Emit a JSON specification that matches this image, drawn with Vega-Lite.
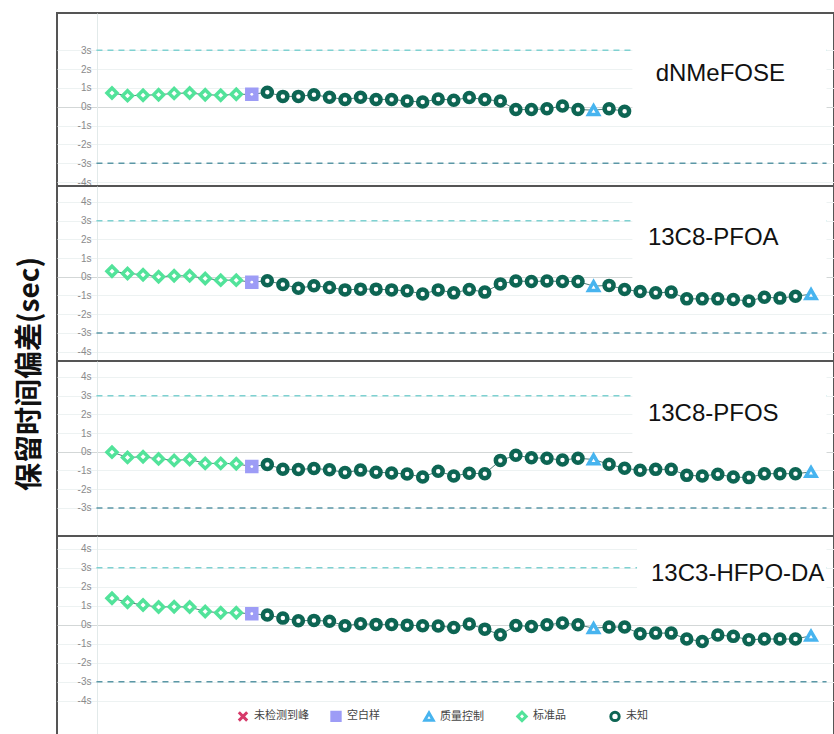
{
 "$schema": "https://vega.github.io/schema/vega-lite/v6.json",
 "padding": {"left": 16, "top": 12, "right": 0, "bottom": 0},
 "autosize": {"type": "pad"},
 "background": "white",
 "bounds": "flush",
 "title": {"text": "保留时间偏差(sec)", "orient": "left", "anchor": "middle", "font": "Noto Sans CJK SC", "fontSize": 28, "fontWeight": "bold", "color": "#111111", "offset": 11},
 "spacing": 0,
 "config": {"view": {"stroke": "#555555", "strokeWidth": 2}, "font": "Liberation Sans", "axisY": {"labelOverlap": false, "tickCount": 20}},
 "datasets": {
  "pts": [
   {"c":"dNMeFOSE","i":0,"v":0.73,"t":"标准品"},{"c":"dNMeFOSE","i":1,"v":0.59,"t":"标准品"},{"c":"dNMeFOSE","i":2,"v":0.61,"t":"标准品"},{"c":"dNMeFOSE","i":3,"v":0.64,"t":"标准品"},{"c":"dNMeFOSE","i":4,"v":0.71,"t":"标准品"},{"c":"dNMeFOSE","i":5,"v":0.73,"t":"标准品"},{"c":"dNMeFOSE","i":6,"v":0.64,"t":"标准品"},{"c":"dNMeFOSE","i":7,"v":0.61,"t":"标准品"},{"c":"dNMeFOSE","i":8,"v":0.66,"t":"标准品"},{"c":"dNMeFOSE","i":9,"v":0.66,"t":"空白样"},
   {"c":"dNMeFOSE","i":10,"v":0.77,"t":"未知"},{"c":"dNMeFOSE","i":11,"v":0.55,"t":"未知"},{"c":"dNMeFOSE","i":12,"v":0.55,"t":"未知"},{"c":"dNMeFOSE","i":13,"v":0.64,"t":"未知"},{"c":"dNMeFOSE","i":14,"v":0.5,"t":"未知"},{"c":"dNMeFOSE","i":15,"v":0.39,"t":"未知"},{"c":"dNMeFOSE","i":16,"v":0.5,"t":"未知"},{"c":"dNMeFOSE","i":17,"v":0.39,"t":"未知"},{"c":"dNMeFOSE","i":18,"v":0.39,"t":"未知"},{"c":"dNMeFOSE","i":19,"v":0.3,"t":"未知"},
   {"c":"dNMeFOSE","i":20,"v":0.25,"t":"未知"},{"c":"dNMeFOSE","i":21,"v":0.41,"t":"未知"},{"c":"dNMeFOSE","i":22,"v":0.35,"t":"未知"},{"c":"dNMeFOSE","i":23,"v":0.49,"t":"未知"},{"c":"dNMeFOSE","i":24,"v":0.38,"t":"未知"},{"c":"dNMeFOSE","i":25,"v":0.31,"t":"未知"},{"c":"dNMeFOSE","i":26,"v":-0.15,"t":"未知"},{"c":"dNMeFOSE","i":27,"v":-0.15,"t":"未知"},{"c":"dNMeFOSE","i":28,"v":-0.11,"t":"未知"},{"c":"dNMeFOSE","i":29,"v":0.04,"t":"未知"},
   {"c":"dNMeFOSE","i":30,"v":-0.15,"t":"未知"},{"c":"dNMeFOSE","i":31,"v":-0.18,"t":"质量控制"},{"c":"dNMeFOSE","i":32,"v":-0.11,"t":"未知"},{"c":"dNMeFOSE","i":33,"v":-0.24,"t":"未知"},

   {"c":"13C8-PFOA","i":0,"v":0.29,"t":"标准品"},{"c":"13C8-PFOA","i":1,"v":0.18,"t":"标准品"},{"c":"13C8-PFOA","i":2,"v":0.11,"t":"标准品"},{"c":"13C8-PFOA","i":3,"v":0.0,"t":"标准品"},{"c":"13C8-PFOA","i":4,"v":0.05,"t":"标准品"},{"c":"13C8-PFOA","i":5,"v":0.05,"t":"标准品"},{"c":"13C8-PFOA","i":6,"v":-0.09,"t":"标准品"},{"c":"13C8-PFOA","i":7,"v":-0.18,"t":"标准品"},{"c":"13C8-PFOA","i":8,"v":-0.18,"t":"标准品"},{"c":"13C8-PFOA","i":9,"v":-0.29,"t":"空白样"},
   {"c":"13C8-PFOA","i":10,"v":-0.21,"t":"未知"},{"c":"13C8-PFOA","i":11,"v":-0.41,"t":"未知"},{"c":"13C8-PFOA","i":12,"v":-0.61,"t":"未知"},{"c":"13C8-PFOA","i":13,"v":-0.48,"t":"未知"},{"c":"13C8-PFOA","i":14,"v":-0.57,"t":"未知"},{"c":"13C8-PFOA","i":15,"v":-0.7,"t":"未知"},{"c":"13C8-PFOA","i":16,"v":-0.66,"t":"未知"},{"c":"13C8-PFOA","i":17,"v":-0.66,"t":"未知"},{"c":"13C8-PFOA","i":18,"v":-0.7,"t":"未知"},{"c":"13C8-PFOA","i":19,"v":-0.75,"t":"未知"},
   {"c":"13C8-PFOA","i":20,"v":-0.92,"t":"未知"},{"c":"13C8-PFOA","i":21,"v":-0.7,"t":"未知"},{"c":"13C8-PFOA","i":22,"v":-0.86,"t":"未知"},{"c":"13C8-PFOA","i":23,"v":-0.68,"t":"未知"},{"c":"13C8-PFOA","i":24,"v":-0.82,"t":"未知"},{"c":"13C8-PFOA","i":25,"v":-0.38,"t":"未知"},{"c":"13C8-PFOA","i":26,"v":-0.23,"t":"未知"},{"c":"13C8-PFOA","i":27,"v":-0.25,"t":"未知"},{"c":"13C8-PFOA","i":28,"v":-0.23,"t":"未知"},{"c":"13C8-PFOA","i":29,"v":-0.25,"t":"未知"},
   {"c":"13C8-PFOA","i":30,"v":-0.25,"t":"未知"},{"c":"13C8-PFOA","i":31,"v":-0.5,"t":"质量控制"},{"c":"13C8-PFOA","i":32,"v":-0.46,"t":"未知"},{"c":"13C8-PFOA","i":33,"v":-0.68,"t":"未知"},{"c":"13C8-PFOA","i":34,"v":-0.79,"t":"未知"},{"c":"13C8-PFOA","i":35,"v":-0.86,"t":"未知"},{"c":"13C8-PFOA","i":36,"v":-0.82,"t":"未知"},{"c":"13C8-PFOA","i":37,"v":-1.18,"t":"未知"},{"c":"13C8-PFOA","i":38,"v":-1.18,"t":"未知"},{"c":"13C8-PFOA","i":39,"v":-1.18,"t":"未知"},
   {"c":"13C8-PFOA","i":40,"v":-1.21,"t":"未知"},{"c":"13C8-PFOA","i":41,"v":-1.29,"t":"未知"},{"c":"13C8-PFOA","i":42,"v":-1.09,"t":"未知"},{"c":"13C8-PFOA","i":43,"v":-1.14,"t":"未知"},{"c":"13C8-PFOA","i":44,"v":-1.04,"t":"未知"},{"c":"13C8-PFOA","i":45,"v":-0.93,"t":"质量控制"},

   {"c":"13C8-PFOS","i":0,"v":-0.02,"t":"标准品"},{"c":"13C8-PFOS","i":1,"v":-0.3,"t":"标准品"},{"c":"13C8-PFOS","i":2,"v":-0.27,"t":"标准品"},{"c":"13C8-PFOS","i":3,"v":-0.38,"t":"标准品"},{"c":"13C8-PFOS","i":4,"v":-0.46,"t":"标准品"},{"c":"13C8-PFOS","i":5,"v":-0.41,"t":"标准品"},{"c":"13C8-PFOS","i":6,"v":-0.62,"t":"标准品"},{"c":"13C8-PFOS","i":7,"v":-0.62,"t":"标准品"},{"c":"13C8-PFOS","i":8,"v":-0.64,"t":"标准品"},{"c":"13C8-PFOS","i":9,"v":-0.79,"t":"空白样"},
   {"c":"13C8-PFOS","i":10,"v":-0.68,"t":"未知"},{"c":"13C8-PFOS","i":11,"v":-0.93,"t":"未知"},{"c":"13C8-PFOS","i":12,"v":-0.95,"t":"未知"},{"c":"13C8-PFOS","i":13,"v":-0.89,"t":"未知"},{"c":"13C8-PFOS","i":14,"v":-0.96,"t":"未知"},{"c":"13C8-PFOS","i":15,"v":-1.11,"t":"未知"},{"c":"13C8-PFOS","i":16,"v":-0.98,"t":"未知"},{"c":"13C8-PFOS","i":17,"v":-1.09,"t":"未知"},{"c":"13C8-PFOS","i":18,"v":-1.13,"t":"未知"},{"c":"13C8-PFOS","i":19,"v":-1.19,"t":"未知"},
   {"c":"13C8-PFOS","i":20,"v":-1.35,"t":"未知"},{"c":"13C8-PFOS","i":21,"v":-1.04,"t":"未知"},{"c":"13C8-PFOS","i":22,"v":-1.29,"t":"未知"},{"c":"13C8-PFOS","i":23,"v":-1.15,"t":"未知"},{"c":"13C8-PFOS","i":24,"v":-1.17,"t":"未知"},{"c":"13C8-PFOS","i":25,"v":-0.46,"t":"未知"},{"c":"13C8-PFOS","i":26,"v":-0.19,"t":"未知"},{"c":"13C8-PFOS","i":27,"v":-0.32,"t":"未知"},{"c":"13C8-PFOS","i":28,"v":-0.35,"t":"未知"},{"c":"13C8-PFOS","i":29,"v":-0.44,"t":"未知"},
   {"c":"13C8-PFOS","i":30,"v":-0.35,"t":"未知"},{"c":"13C8-PFOS","i":31,"v":-0.41,"t":"质量控制"},{"c":"13C8-PFOS","i":32,"v":-0.67,"t":"未知"},{"c":"13C8-PFOS","i":33,"v":-0.88,"t":"未知"},{"c":"13C8-PFOS","i":34,"v":-0.99,"t":"未知"},{"c":"13C8-PFOS","i":35,"v":-0.94,"t":"未知"},{"c":"13C8-PFOS","i":36,"v":-0.94,"t":"未知"},{"c":"13C8-PFOS","i":37,"v":-1.26,"t":"未知"},{"c":"13C8-PFOS","i":38,"v":-1.29,"t":"未知"},{"c":"13C8-PFOS","i":39,"v":-1.2,"t":"未知"},
   {"c":"13C8-PFOS","i":40,"v":-1.35,"t":"未知"},{"c":"13C8-PFOS","i":41,"v":-1.38,"t":"未知"},{"c":"13C8-PFOS","i":42,"v":-1.17,"t":"未知"},{"c":"13C8-PFOS","i":43,"v":-1.17,"t":"未知"},{"c":"13C8-PFOS","i":44,"v":-1.17,"t":"未知"},{"c":"13C8-PFOS","i":45,"v":-1.08,"t":"质量控制"},

   {"c":"13C3-HFPO-DA","i":0,"v":1.4,"t":"标准品"},{"c":"13C3-HFPO-DA","i":1,"v":1.18,"t":"标准品"},{"c":"13C3-HFPO-DA","i":2,"v":1.04,"t":"标准品"},{"c":"13C3-HFPO-DA","i":3,"v":0.93,"t":"标准品"},{"c":"13C3-HFPO-DA","i":4,"v":0.95,"t":"标准品"},{"c":"13C3-HFPO-DA","i":5,"v":0.93,"t":"标准品"},{"c":"13C3-HFPO-DA","i":6,"v":0.7,"t":"标准品"},{"c":"13C3-HFPO-DA","i":7,"v":0.63,"t":"标准品"},{"c":"13C3-HFPO-DA","i":8,"v":0.63,"t":"标准品"},{"c":"13C3-HFPO-DA","i":9,"v":0.58,"t":"空白样"},
   {"c":"13C3-HFPO-DA","i":10,"v":0.51,"t":"未知"},{"c":"13C3-HFPO-DA","i":11,"v":0.35,"t":"未知"},{"c":"13C3-HFPO-DA","i":12,"v":0.21,"t":"未知"},{"c":"13C3-HFPO-DA","i":13,"v":0.23,"t":"未知"},{"c":"13C3-HFPO-DA","i":14,"v":0.19,"t":"未知"},{"c":"13C3-HFPO-DA","i":15,"v":-0.05,"t":"未知"},{"c":"13C3-HFPO-DA","i":16,"v":0.05,"t":"未知"},{"c":"13C3-HFPO-DA","i":17,"v":0.02,"t":"未知"},{"c":"13C3-HFPO-DA","i":18,"v":0.02,"t":"未知"},{"c":"13C3-HFPO-DA","i":19,"v":-0.02,"t":"未知"},
   {"c":"13C3-HFPO-DA","i":20,"v":-0.05,"t":"未知"},{"c":"13C3-HFPO-DA","i":21,"v":-0.07,"t":"未知"},{"c":"13C3-HFPO-DA","i":22,"v":-0.14,"t":"未知"},{"c":"13C3-HFPO-DA","i":23,"v":0.04,"t":"未知"},{"c":"13C3-HFPO-DA","i":24,"v":-0.23,"t":"未知"},{"c":"13C3-HFPO-DA","i":25,"v":-0.53,"t":"未知"},{"c":"13C3-HFPO-DA","i":26,"v":-0.04,"t":"未知"},{"c":"13C3-HFPO-DA","i":27,"v":-0.09,"t":"未知"},{"c":"13C3-HFPO-DA","i":28,"v":0.0,"t":"未知"},{"c":"13C3-HFPO-DA","i":29,"v":0.09,"t":"未知"},
   {"c":"13C3-HFPO-DA","i":30,"v":0.0,"t":"未知"},{"c":"13C3-HFPO-DA","i":31,"v":-0.18,"t":"质量控制"},{"c":"13C3-HFPO-DA","i":32,"v":-0.12,"t":"未知"},{"c":"13C3-HFPO-DA","i":33,"v":-0.12,"t":"未知"},{"c":"13C3-HFPO-DA","i":34,"v":-0.47,"t":"未知"},{"c":"13C3-HFPO-DA","i":35,"v":-0.44,"t":"未知"},{"c":"13C3-HFPO-DA","i":36,"v":-0.44,"t":"未知"},{"c":"13C3-HFPO-DA","i":37,"v":-0.75,"t":"未知"},{"c":"13C3-HFPO-DA","i":38,"v":-0.88,"t":"未知"},{"c":"13C3-HFPO-DA","i":39,"v":-0.54,"t":"未知"},
   {"c":"13C3-HFPO-DA","i":40,"v":-0.61,"t":"未知"},{"c":"13C3-HFPO-DA","i":41,"v":-0.79,"t":"未知"},{"c":"13C3-HFPO-DA","i":42,"v":-0.75,"t":"未知"},{"c":"13C3-HFPO-DA","i":43,"v":-0.75,"t":"未知"},{"c":"13C3-HFPO-DA","i":44,"v":-0.75,"t":"未知"},{"c":"13C3-HFPO-DA","i":45,"v":-0.58,"t":"质量控制"}
  ]
 },
 "vconcat": [
  {
   "width": 777, "height": 173,
   "layer": [
    {"data": {"values": [{"lim": 3}]}, "mark": {"type": "rule", "color": "#7fd1d1", "strokeWidth": 1.5, "strokeDash": [6, 5]},
     "encoding": {
      "y": {"field": "lim", "type": "quantitative", "scale": {"domain": [-4.21, 4.98], "nice": false, "zero": false},
            "axis": {"title": null, "values": [-4, -3, -2, -1, 0, 1, 2, 3], "tickCount": 20, "labelOverlap": false, "offset": -40, "ticks": false, "labelPadding": 6, "labelFontSize": 10, "labelColor": "#8a8a8a", "domainColor": "#e2eaea", "labelExpr": "datum.value + 's'", "gridColor": {"condition": {"test": "datum.value === 0", "value": "#d3d7d7"}, "value": "#edf2f2"}}},
      "x": {"datum": -1, "type": "quantitative", "scale": {"domain": [-3.54, 46.48], "nice": false, "zero": false}, "axis": null},
      "x2": {"datum": 46}}},
    {"data": {"values": [{"lim": -3}]}, "mark": {"type": "rule", "color": "#5b97a6", "strokeWidth": 1.5, "strokeDash": [6, 5]},
     "encoding": {"y": {"field": "lim", "type": "quantitative"}, "x": {"datum": -1, "type": "quantitative"}, "x2": {"datum": 46}}},
    {"data": {"values": [{}]}, "mark": {"type": "rect", "fill": "white"},
     "encoding": {"x": {"datum": 33.5, "type": "quantitative"}, "x2": {"datum": 46}, "y": {"datum": 4.85, "type": "quantitative"}, "y2": {"datum": -0.5}}},
    {"data": {"name": "pts"}, "transform": [{"filter": "datum.c === 'dNMeFOSE'"}], "mark": {"type": "line", "color": "#4f7c78", "strokeWidth": 1},
     "encoding": {"x": {"field": "i", "type": "quantitative"}, "y": {"field": "v", "type": "quantitative"}}},
    {"data": {"name": "pts"}, "transform": [{"filter": "datum.c === 'dNMeFOSE' && datum.t !== '未知'"}], "mark": {"type": "point", "size": 100, "strokeWidth": 3.5, "opacity": 1},
     "encoding": {"x": {"field": "i", "type": "quantitative"}, "y": {"field": "v", "type": "quantitative"},
      "shape": {"field": "t", "type": "nominal", "scale": {"domain": ["未检测到峰", "空白样", "质量控制", "标准品", "未知"], "range": ["M-1,-1L1,1M-1,1L1,-1", "square", "triangle-up", "diamond", "circle"]},
                "legend": {"orient": "none", "legendX": 180, "legendY": 697, "direction": "horizontal", "columns": 5, "gridAlign": "all", "columnPadding": 16, "title": null, "labelFontSize": 11, "labelColor": "#444444", "labelFont": "Noto Sans CJK SC", "symbolSize": 70, "symbolStrokeWidth": 3, "labelOffset": 5}},
      "fill": {"field": "t", "type": "nominal", "scale": {"domain": ["未检测到峰", "空白样", "质量控制", "标准品", "未知"], "range": ["#d63a6a", "#9d9cf6", "#ffffff", "#ffffff", "#ffffff"]},
                "legend": {"orient": "none", "legendX": 180, "legendY": 697, "direction": "horizontal", "columns": 5, "gridAlign": "all", "columnPadding": 16, "title": null, "labelFontSize": 11, "labelColor": "#444444", "labelFont": "Noto Sans CJK SC", "symbolSize": 70, "symbolStrokeWidth": 3, "labelOffset": 5}},
      "stroke": {"field": "t", "type": "nominal", "scale": {"domain": ["未检测到峰", "空白样", "质量控制", "标准品", "未知"], "range": ["#d63a6a", "#9d9cf6", "#47b4ef", "#52e39a", "#0d6553"]},
                "legend": {"orient": "none", "legendX": 180, "legendY": 697, "direction": "horizontal", "columns": 5, "gridAlign": "all", "columnPadding": 16, "title": null, "labelFontSize": 11, "labelColor": "#444444", "labelFont": "Noto Sans CJK SC", "symbolSize": 70, "symbolStrokeWidth": 3, "labelOffset": 5}}}},
    {"data": {"name": "pts"}, "transform": [{"filter": "datum.c === 'dNMeFOSE' && datum.t === '未知'"}], "mark": {"type": "point", "size": 81, "strokeWidth": 4.5, "opacity": 1},
     "encoding": {"x": {"field": "i", "type": "quantitative"}, "y": {"field": "v", "type": "quantitative"},
      "shape": {"field": "t", "type": "nominal"}, "fill": {"field": "t", "type": "nominal"}, "stroke": {"field": "t", "type": "nominal"}}},
    {"data": {"name": "pts"}, "transform": [{"filter": "datum.c === 'dNMeFOSE' && datum.t === '空白样'"}], "mark": {"type": "point", "shape": "circle", "size": 8, "filled": true, "fill": "white", "opacity": 1, "strokeWidth": 0},
     "encoding": {"x": {"field": "i", "type": "quantitative"}, "y": {"field": "v", "type": "quantitative"}}},
    {"data": {"values": [{"name": "dNMeFOSE"}]}, "mark": {"type": "text", "align": "left", "baseline": "middle", "fontSize": 24, "font": "Liberation Sans", "color": "#111111"},
     "encoding": {"text": {"field": "name"}, "x": {"datum": 35, "type": "quantitative"}, "y": {"datum": 1.74, "type": "quantitative"}}}
   ]
  },
  {
   "width": 777, "height": 175,
   "layer": [
    {"data": {"values": [{"lim": 3}]}, "mark": {"type": "rule", "color": "#7fd1d1", "strokeWidth": 1.5, "strokeDash": [6, 5]},
     "encoding": {
      "y": {"field": "lim", "type": "quantitative", "scale": {"domain": [-4.5, 4.85], "nice": false, "zero": false},
            "axis": {"title": null, "values": [-4, -3, -2, -1, 0, 1, 2, 3, 4], "tickCount": 20, "labelOverlap": false, "offset": -40, "ticks": false, "labelPadding": 6, "labelFontSize": 10, "labelColor": "#8a8a8a", "domainColor": "#e2eaea", "labelExpr": "datum.value + 's'", "gridColor": {"condition": {"test": "datum.value === 0", "value": "#d3d7d7"}, "value": "#edf2f2"}}},
      "x": {"datum": -1, "type": "quantitative", "scale": {"domain": [-3.54, 46.48], "nice": false, "zero": false}, "axis": null},
      "x2": {"datum": 46}}},
    {"data": {"values": [{"lim": -3}]}, "mark": {"type": "rule", "color": "#5b97a6", "strokeWidth": 1.5, "strokeDash": [6, 5]},
     "encoding": {"y": {"field": "lim", "type": "quantitative"}, "x": {"datum": -1, "type": "quantitative"}, "x2": {"datum": 46}}},
    {"data": {"values": [{}]}, "mark": {"type": "rect", "fill": "white"},
     "encoding": {"x": {"datum": 33.5, "type": "quantitative"}, "x2": {"datum": 46}, "y": {"datum": 4.75, "type": "quantitative"}, "y2": {"datum": -0.5}}},
    {"data": {"name": "pts"}, "transform": [{"filter": "datum.c === '13C8-PFOA'"}], "mark": {"type": "line", "color": "#4f7c78", "strokeWidth": 1},
     "encoding": {"x": {"field": "i", "type": "quantitative"}, "y": {"field": "v", "type": "quantitative"}}},
    {"data": {"name": "pts"}, "transform": [{"filter": "datum.c === '13C8-PFOA' && datum.t !== '未知'"}], "mark": {"type": "point", "size": 100, "strokeWidth": 3.5, "opacity": 1},
     "encoding": {"x": {"field": "i", "type": "quantitative"}, "y": {"field": "v", "type": "quantitative"},
      "shape": {"field": "t", "type": "nominal"}, "fill": {"field": "t", "type": "nominal"}, "stroke": {"field": "t", "type": "nominal"}}},
    {"data": {"name": "pts"}, "transform": [{"filter": "datum.c === '13C8-PFOA' && datum.t === '未知'"}], "mark": {"type": "point", "size": 81, "strokeWidth": 4.5, "opacity": 1},
     "encoding": {"x": {"field": "i", "type": "quantitative"}, "y": {"field": "v", "type": "quantitative"},
      "shape": {"field": "t", "type": "nominal"}, "fill": {"field": "t", "type": "nominal"}, "stroke": {"field": "t", "type": "nominal"}}},
    {"data": {"name": "pts"}, "transform": [{"filter": "datum.c === '13C8-PFOA' && datum.t === '空白样'"}], "mark": {"type": "point", "shape": "circle", "size": 8, "filled": true, "fill": "white", "opacity": 1, "strokeWidth": 0},
     "encoding": {"x": {"field": "i", "type": "quantitative"}, "y": {"field": "v", "type": "quantitative"}}},
    {"data": {"values": [{"name": "13C8-PFOA"}]}, "mark": {"type": "text", "align": "left", "baseline": "middle", "fontSize": 24, "font": "Liberation Sans", "color": "#111111"},
     "encoding": {"text": {"field": "name"}, "x": {"datum": 34.5, "type": "quantitative"}, "y": {"datum": 2.08, "type": "quantitative"}}}
   ]
  },
  {
   "width": 777, "height": 175,
   "layer": [
    {"data": {"values": [{"lim": 3}]}, "mark": {"type": "rule", "color": "#7fd1d1", "strokeWidth": 1.5, "strokeDash": [6, 5]},
     "encoding": {
      "y": {"field": "lim", "type": "quantitative", "scale": {"domain": [-4.5, 4.85], "nice": false, "zero": false},
            "axis": {"title": null, "values": [-3, -2, -1, 0, 1, 2, 3, 4], "tickCount": 20, "labelOverlap": false, "offset": -40, "ticks": false, "labelPadding": 6, "labelFontSize": 10, "labelColor": "#8a8a8a", "domainColor": "#e2eaea", "labelExpr": "datum.value + 's'", "gridColor": {"condition": {"test": "datum.value === 0", "value": "#d3d7d7"}, "value": "#edf2f2"}}},
      "x": {"datum": -1, "type": "quantitative", "scale": {"domain": [-3.54, 46.48], "nice": false, "zero": false}, "axis": null},
      "x2": {"datum": 46}}},
    {"data": {"values": [{"lim": -3}]}, "mark": {"type": "rule", "color": "#5b97a6", "strokeWidth": 1.5, "strokeDash": [6, 5]},
     "encoding": {"y": {"field": "lim", "type": "quantitative"}, "x": {"datum": -1, "type": "quantitative"}, "x2": {"datum": 46}}},
    {"data": {"values": [{}]}, "mark": {"type": "rect", "fill": "white"},
     "encoding": {"x": {"datum": 33.5, "type": "quantitative"}, "x2": {"datum": 46}, "y": {"datum": 4.75, "type": "quantitative"}, "y2": {"datum": -0.5}}},
    {"data": {"name": "pts"}, "transform": [{"filter": "datum.c === '13C8-PFOS'"}], "mark": {"type": "line", "color": "#4f7c78", "strokeWidth": 1},
     "encoding": {"x": {"field": "i", "type": "quantitative"}, "y": {"field": "v", "type": "quantitative"}}},
    {"data": {"name": "pts"}, "transform": [{"filter": "datum.c === '13C8-PFOS' && datum.t !== '未知'"}], "mark": {"type": "point", "size": 100, "strokeWidth": 3.5, "opacity": 1},
     "encoding": {"x": {"field": "i", "type": "quantitative"}, "y": {"field": "v", "type": "quantitative"},
      "shape": {"field": "t", "type": "nominal"}, "fill": {"field": "t", "type": "nominal"}, "stroke": {"field": "t", "type": "nominal"}}},
    {"data": {"name": "pts"}, "transform": [{"filter": "datum.c === '13C8-PFOS' && datum.t === '未知'"}], "mark": {"type": "point", "size": 81, "strokeWidth": 4.5, "opacity": 1},
     "encoding": {"x": {"field": "i", "type": "quantitative"}, "y": {"field": "v", "type": "quantitative"},
      "shape": {"field": "t", "type": "nominal"}, "fill": {"field": "t", "type": "nominal"}, "stroke": {"field": "t", "type": "nominal"}}},
    {"data": {"name": "pts"}, "transform": [{"filter": "datum.c === '13C8-PFOS' && datum.t === '空白样'"}], "mark": {"type": "point", "shape": "circle", "size": 8, "filled": true, "fill": "white", "opacity": 1, "strokeWidth": 0},
     "encoding": {"x": {"field": "i", "type": "quantitative"}, "y": {"field": "v", "type": "quantitative"}}},
    {"data": {"values": [{"name": "13C8-PFOS"}]}, "mark": {"type": "text", "align": "left", "baseline": "middle", "fontSize": 24, "font": "Liberation Sans", "color": "#111111"},
     "encoding": {"text": {"field": "name"}, "x": {"datum": 34.5, "type": "quantitative"}, "y": {"datum": 2.03, "type": "quantitative"}}}
   ]
  },
  {
   "width": 777, "height": 199,
   "layer": [
    {"data": {"values": [{"lim": 3}]}, "mark": {"type": "rule", "color": "#7fd1d1", "strokeWidth": 1.5, "strokeDash": [6, 5]},
     "encoding": {
      "y": {"field": "lim", "type": "quantitative", "scale": {"domain": [-5.8, 4.67], "nice": false, "zero": false},
            "axis": {"title": null, "values": [-4, -3, -2, -1, 0, 1, 2, 3, 4], "tickCount": 20, "labelOverlap": false, "offset": -40, "ticks": false, "labelPadding": 6, "labelFontSize": 10, "labelColor": "#8a8a8a", "domainColor": "#e2eaea", "labelExpr": "datum.value + 's'", "gridColor": {"condition": {"test": "datum.value === 0", "value": "#d3d7d7"}, "value": "#edf2f2"}}},
      "x": {"datum": -1, "type": "quantitative", "scale": {"domain": [-3.54, 46.48], "nice": false, "zero": false}, "axis": null},
      "x2": {"datum": 46}}},
    {"data": {"values": [{"lim": -3}]}, "mark": {"type": "rule", "color": "#5b97a6", "strokeWidth": 1.5, "strokeDash": [6, 5]},
     "encoding": {"y": {"field": "lim", "type": "quantitative"}, "x": {"datum": -1, "type": "quantitative"}, "x2": {"datum": 46}}},
    {"data": {"values": [{}]}, "mark": {"type": "rect", "fill": "white"},
     "encoding": {"x": {"datum": 33.8, "type": "quantitative"}, "x2": {"datum": 46}, "y": {"datum": 4.55, "type": "quantitative"}, "y2": {"datum": 1.5}}},
    {"data": {"name": "pts"}, "transform": [{"filter": "datum.c === '13C3-HFPO-DA'"}], "mark": {"type": "line", "color": "#4f7c78", "strokeWidth": 1},
     "encoding": {"x": {"field": "i", "type": "quantitative"}, "y": {"field": "v", "type": "quantitative"}}},
    {"data": {"name": "pts"}, "transform": [{"filter": "datum.c === '13C3-HFPO-DA' && datum.t !== '未知'"}], "mark": {"type": "point", "size": 100, "strokeWidth": 3.5, "opacity": 1},
     "encoding": {"x": {"field": "i", "type": "quantitative"}, "y": {"field": "v", "type": "quantitative"},
      "shape": {"field": "t", "type": "nominal"}, "fill": {"field": "t", "type": "nominal"}, "stroke": {"field": "t", "type": "nominal"}}},
    {"data": {"name": "pts"}, "transform": [{"filter": "datum.c === '13C3-HFPO-DA' && datum.t === '未知'"}], "mark": {"type": "point", "size": 81, "strokeWidth": 4.5, "opacity": 1},
     "encoding": {"x": {"field": "i", "type": "quantitative"}, "y": {"field": "v", "type": "quantitative"},
      "shape": {"field": "t", "type": "nominal"}, "fill": {"field": "t", "type": "nominal"}, "stroke": {"field": "t", "type": "nominal"}}},
    {"data": {"name": "pts"}, "transform": [{"filter": "datum.c === '13C3-HFPO-DA' && datum.t === '空白样'"}], "mark": {"type": "point", "shape": "circle", "size": 8, "filled": true, "fill": "white", "opacity": 1, "strokeWidth": 0},
     "encoding": {"x": {"field": "i", "type": "quantitative"}, "y": {"field": "v", "type": "quantitative"}}},
    {"data": {"values": [{"name": "13C3-HFPO-DA"}]}, "mark": {"type": "text", "align": "left", "baseline": "middle", "fontSize": 24, "font": "Liberation Sans", "color": "#111111"},
     "encoding": {"text": {"field": "name"}, "x": {"datum": 34.7, "type": "quantitative"}, "y": {"datum": 2.68, "type": "quantitative"}}}
   ]
  }
 ]
}
